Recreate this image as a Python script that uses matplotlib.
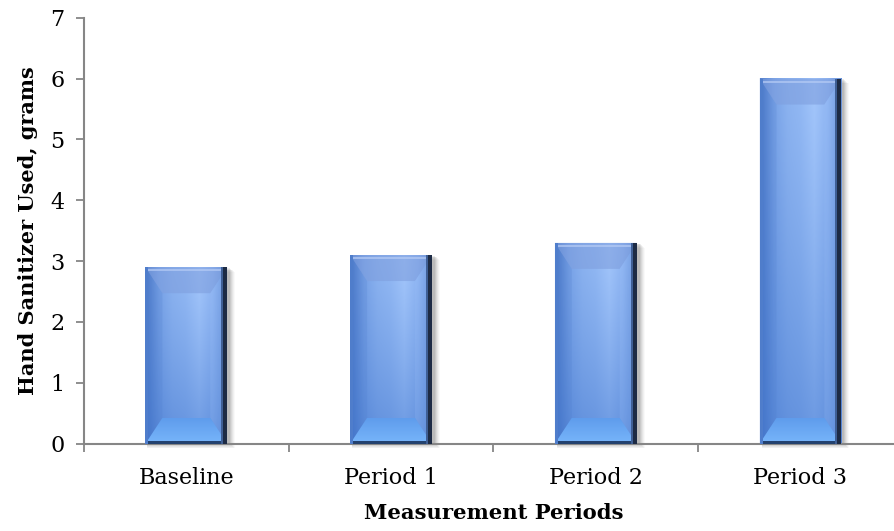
import numpy as np
import matplotlib
matplotlib.use("Agg")
import matplotlib.pyplot as plt
from matplotlib.patches import Polygon, Rectangle
from matplotlib.colors import LinearSegmentedColormap, to_rgb

categories = ["Baseline", "Period 1", "Period 2", "Period 3"]
values = [2.9, 3.1, 3.3, 6.0]
yticks = [0, 1, 2, 3, 4, 5, 6, 7]
ylabel = "Hand Sanitizer Used, grams"
xlabel = "Measurement Periods"

W, H, DPI = 894, 531, 100
fig = plt.figure(figsize=(W / DPI, H / DPI), dpi=DPI)
ax = fig.add_axes([84 / W, 1 - 443.7 / H, 4 * 204.7 / W, (443.7 - 17.7) / H])
ax.set_xlim(-0.5, len(categories) - 0.5)
ax.set_ylim(0, 7)

serif = ["DejaVu Serif"]
gray = "#868686"
for s in ["top", "right"]:
    ax.spines[s].set_visible(False)
for s in ["left", "bottom"]:
    ax.spines[s].set_color(gray)
    ax.spines[s].set_linewidth(1.5)

ax.set_yticks(yticks)
ax.set_yticklabels([str(t) for t in yticks], fontsize=16, family=serif)
ax.tick_params(axis="y", length=6, width=1.3, color=gray, pad=8)
bounds = np.arange(-0.5, len(categories) - 0.5, 1.0)
ax.set_xticks(bounds)
ax.set_xticklabels([])
ax.tick_params(axis="x", which="major", length=6, width=1.3, color=gray)
ax.set_xticks(np.arange(len(categories)), minor=True)
ax.set_xticklabels(categories, minor=True, fontsize=16, family=serif)
ax.tick_params(axis="x", which="minor", length=0, pad=17)

ax.set_ylabel(ylabel, fontsize=15, fontweight="bold", family=serif, labelpad=9)
ax.set_xlabel(xlabel, fontsize=15.2, fontweight="bold", family=serif, labelpad=10)

# pixel -> data scale
ax_w_px = 4 * 204.7
ax_h_px = 443.7 - 17.7
px_x = 4.0 / ax_w_px
px_y = 7.0 / ax_h_px

bar_w = 0.40
bx = 17 * px_x
by = 26 * px_y

hcols = ["#4a78c8", "#7aa4e8", "#8cb3f0", "#93b9f4", "#a3c6fb", "#90b6f3", "#6590d8"]
hcmap = LinearSegmentedColormap.from_list("h", hcols)
bcmap = LinearSegmentedColormap.from_list("b", ["#78b6fb", "#5f9cec"])
deep = np.array(to_rgb("#3c72cc"))

for i, v in enumerate(values):
    x0, x1 = i - bar_w / 2, i + bar_w / 2
    # soft shadow
    for k, a in zip(range(6, 0, -1), [0.025, 0.035, 0.045, 0.055, 0.065, 0.075]):
        ax.add_patch(Rectangle((x0 + 2 * px_x, -k * px_y * 0.8), bar_w + k * px_x, v,
                               facecolor="black", alpha=a, linewidth=0, zorder=1, clip_on=False))
    # body gradient
    nx, ny = 64, 64
    gx = np.linspace(0, 1, nx)
    gy = np.linspace(0, 1, ny)[:, None, None]
    img = hcmap(np.tile(gx, (ny, 1)))
    w = 0.55 * (1 - gy) ** 1.2
    img[..., :3] = img[..., :3] * (1 - w) + deep[None, None, :] * w
    ax.imshow(img, extent=(x0, x1, 0, v), origin="lower", aspect="auto",
              interpolation="bilinear", zorder=2)
    # top face
    ax.add_patch(Polygon([(x0, v), (x1, v), (x1 - bx, v - by), (x0 + bx, v - by)],
                         closed=True, facecolor="#7f9fde", edgecolor="none", alpha=0.6, zorder=3))
    ax.add_patch(Rectangle((x0 + 2 * px_x, v - 4 * px_y), bar_w - 4 * px_x, 2 * px_y,
                           facecolor="#b5cbf5", edgecolor="none", alpha=0.7, zorder=3))
    # bottom face with vertical gradient
    bimg = bcmap(np.linspace(0, 1, 32))[:, None, :].repeat(8, axis=1)
    im = ax.imshow(bimg, extent=(x0, x1, 0, by), origin="lower", aspect="auto",
                   interpolation="bilinear", zorder=3)
    clip = Polygon([(x0, 0), (x1, 0), (x1 - bx, by), (x0 + bx, by)], closed=True,
                   transform=ax.transData, facecolor="none", edgecolor="none")
    ax.add_patch(clip)
    im.set_clip_path(clip)
    ax.add_patch(Rectangle((x0, 0), bar_w, 3 * px_y, facecolor="#23426f", edgecolor="none", zorder=4))
    # left face
    ax.add_patch(Polygon([(x0, 0), (x0 + bx, by), (x0 + bx, v - by), (x0, v)],
                         closed=True, facecolor="#4a78c8", edgecolor="none", alpha=0.18, zorder=3))
    ax.add_patch(Rectangle((x0, 0), 3 * px_x, v, facecolor="#4f7dcb", edgecolor="none", zorder=4))
    # right face
    ax.add_patch(Polygon([(x1, 0), (x1 - bx, by), (x1 - bx, v - by), (x1, v)],
                         closed=True, facecolor="#9cc0f8", edgecolor="none", alpha=0.2, zorder=3))
    ax.add_patch(Rectangle((x1 - 4 * px_x, 0), 4 * px_x, v, facecolor="#1d2b45", edgecolor="none", zorder=4))
    ax.add_patch(Rectangle((x1 - 6 * px_x, 0), 2 * px_x, v, facecolor="#3f5f95", edgecolor="none", zorder=4))

ax.set_xlim(-0.5, len(categories) - 0.5)
ax.set_ylim(0, 7)
fig.savefig("out.png", dpi=DPI)
